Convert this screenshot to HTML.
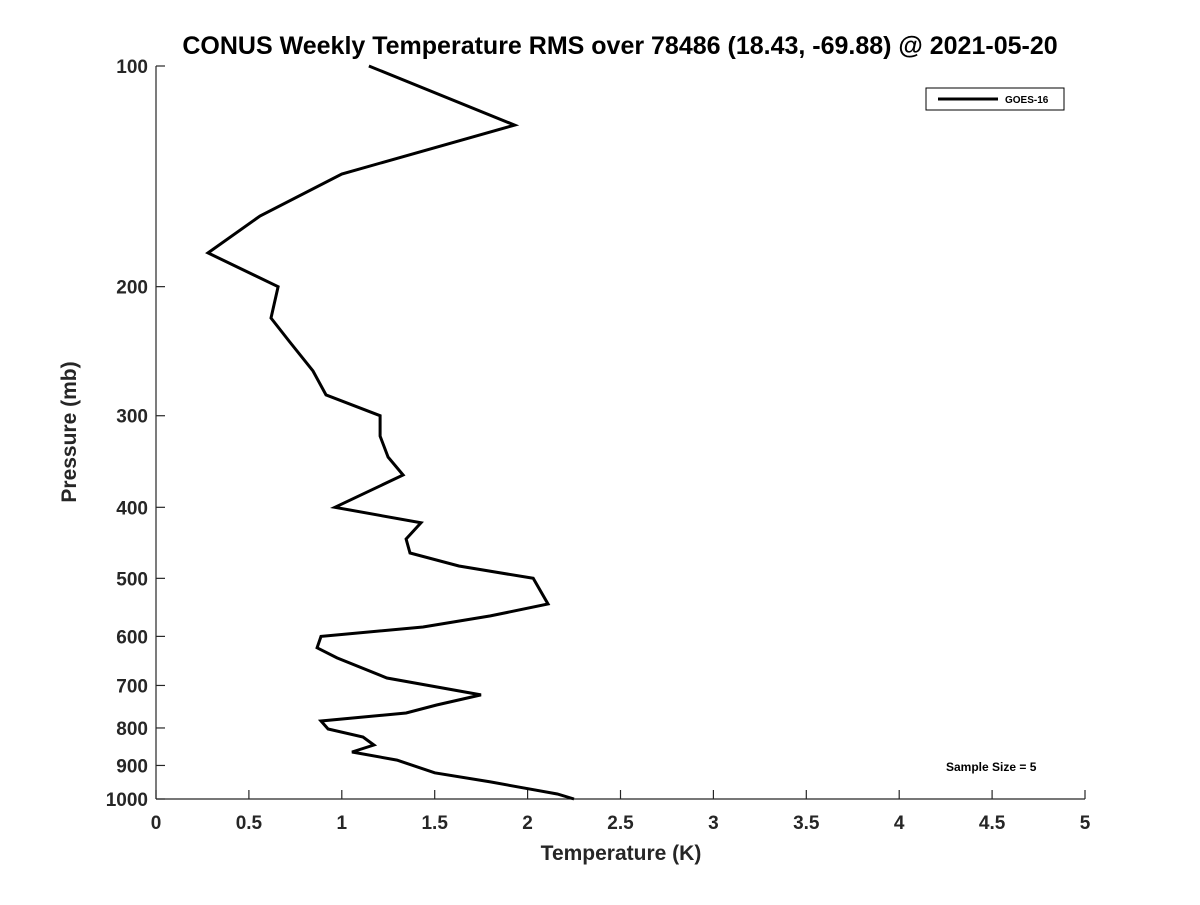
<!DOCTYPE html>
<html><head><meta charset="utf-8"><style>
body{margin:0;background:#fff;}
svg text{font-family:"Liberation Sans","DejaVu Sans",sans-serif;font-weight:bold;fill:#262626;}
</style></head><body>
<svg id="chart" width="1200" height="900" xmlns="http://www.w3.org/2000/svg">
<rect width="1200" height="900" fill="#fff"/>
<text x="620" y="54" font-size="25" text-anchor="middle" fill="#000" style="fill:#000">CONUS Weekly Temperature RMS over 78486 (18.43, -69.88) @ 2021-05-20</text>
<g id="axes"></g>
<path id="line" fill="none" stroke="#000" stroke-width="3" stroke-linejoin="miter"/>
<g>
<rect x="926" y="88" width="138" height="22" fill="#fff" stroke="#000" stroke-width="1"/>
<line x1="938" y1="99" x2="998" y2="99" stroke="#000" stroke-width="3"/>
<text x="1005" y="103" font-size="10" style="fill:#000">GOES-16</text>
</g>
<text x="946" y="771" font-size="12" style="fill:#000">Sample Size = 5</text>
<text x="621" y="860" font-size="21" text-anchor="middle">Temperature (K)</text>
<text transform="translate(76,432) rotate(-90)" font-size="21" text-anchor="middle">Pressure (mb)</text>
</svg>
<script>
const temps=[1.146,1.93,1.0,0.56,0.28,0.657,0.619,0.72,0.845,0.915,1.206,1.206,1.249,1.33,0.963,1.426,1.346,1.367,1.63,2.03,2.11,1.80,1.437,0.888,0.867,0.974,1.243,1.749,1.51,1.346,0.888,0.926,1.114,1.173,1.055,1.297,1.50,1.80,1.96,2.16,2.25];
const pressures=[100,120.4,140.4,160.2,179.9,200,220.7,238,260.7,281,300,319.8,341.6,361.4,400,420,441.8,461.7,481,500,542,562.6,582.6,600,622,642,683.9,721,744.3,763.3,782.6,802.6,823,843.9,862.7,884.9,921,947.7,963.9,984.4,1000];
const xTicks=[0,0.5,1,1.5,2,2.5,3,3.5,4,4.5,5];
const xTickLabels=["0","0.5","1","1.5","2","2.5","3","3.5","4","4.5","5"];
const yTicks=[100,200,300,400,500,600,700,800,900,1000];
const L=156,R=1085,T=66,B=799;
const xs=v=>L+(v-0)/(5-0)*(R-L);
const ys=p=>T+(Math.log10(p)-2)/(3-2)*(B-T);
const NS="http://www.w3.org/2000/svg";
const ax=document.getElementById('axes');
function mk(tag,attrs){const e=document.createElementNS(NS,tag);for(const k in attrs)e.setAttribute(k,attrs[k]);return e;}
const xl=mk('line',{x1:L,y1:B,x2:R,y2:B,stroke:'#262626','stroke-width':1.2});


ax.appendChild(xl);
const yl=mk('line',{x1:L,y1:T,x2:L,y2:B,stroke:'#262626','stroke-width':1.2});


ax.appendChild(yl);
xTicks.forEach((v,i)=>{
 const x=xs(v);
 const t=mk('line',{x1:x,y1:B,x2:x,y2:B-9,stroke:'#262626','stroke-width':1.2});
 
 
 ax.appendChild(t);
 const tx=mk('text',{x:x,y:829,'font-size':19,'text-anchor':'middle'});
 tx.textContent=xTickLabels[i];
 
 
 ax.appendChild(tx);
});
yTicks.forEach(p=>{
 const y=ys(p);
 const t=mk('line',{x1:L,y1:y,x2:L+9,y2:y,stroke:'#262626','stroke-width':1.2});
 
 
 ax.appendChild(t);
 const tx=mk('text',{x:148,y:y+7,'font-size':19,'text-anchor':'end'});
 tx.textContent=String(p);
 
 
 ax.appendChild(tx);
});
document.getElementById('line').setAttribute('d',temps.map((t,i)=>(i?'L':'M')+xs(t).toFixed(1)+','+ys(pressures[i]).toFixed(1)).join(' '));
</script>
</body></html>
